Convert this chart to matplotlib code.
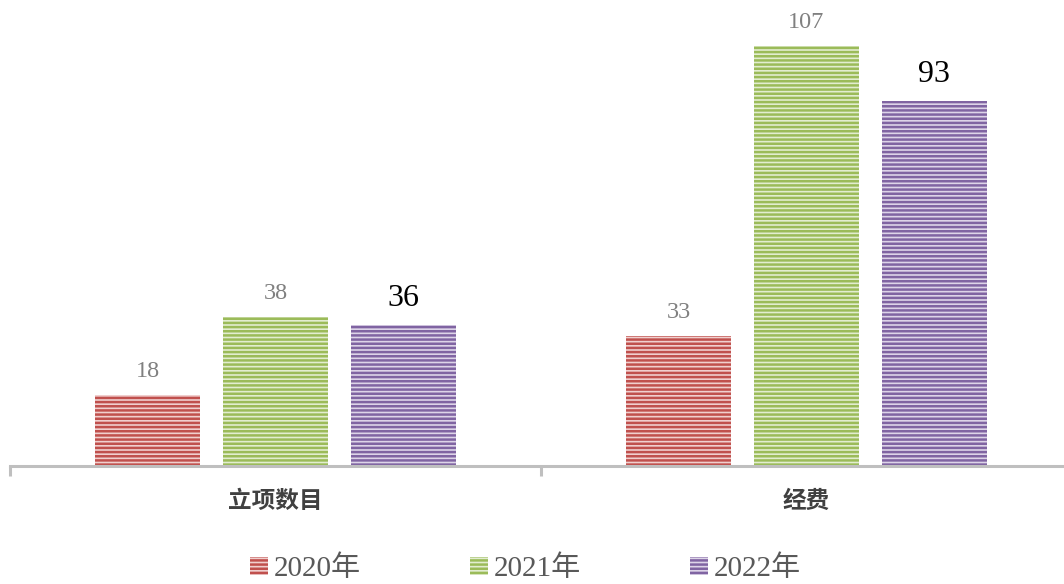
import matplotlib
matplotlib.use("Agg")
import matplotlib.pyplot as plt
import numpy as np
from matplotlib.patches import Patch

categories = ["立项数目", "经费"]
series_names = ["2020年", "2021年", "2022年"]
values = {
    "2020年": [18, 33],
    "2021年": [38, 107],
    "2022年": [36, 93],
}
colors = ["#c0504d", "#9bbb59", "#8064a2"]
faces = ["#f0cfce", "#e2edd0", "#ddd4e8"]

plt.rcParams['hatch.linewidth'] = 1.8

fig = plt.figure(figsize=(10.64, 5.84), dpi=100)
ax = fig.add_axes([10/1064, 1-466/584, 1062/1064, 466/584])

x = np.arange(len(categories))
width = 0.196
step = 0.241
serif_cjk = ['Liberation Serif', 'Noto Sans CJK SC']

for i, name in enumerate(series_names):
    xs = x + (i - 1) * step
    ax.bar(xs, values[name], width, facecolor=faces[i], edgecolor=colors[i],
           hatch='----', linewidth=0, zorder=2)
    for xv, v in zip(xs, values[name]):
        if i == 2:
            ax.text(xv, v + 3.0, str(v), ha='center', va='bottom',
                    fontsize=23, color='black', family=serif_cjk)
        else:
            ax.text(xv, v + 3.3, str(v), ha='center', va='bottom',
                    fontsize=17.5, color='#808080', family=serif_cjk)

ax.set_xlim(-0.5, 1.5)
ax.set_ylim(0, 118.7)
ax.set_yticks([])
for s in ['top', 'right', 'left']:
    ax.spines[s].set_visible(False)
ax.spines['bottom'].set_color('#bfbfbf')
ax.spines['bottom'].set_linewidth(2.2)
ax.set_xticks([-0.5, 0.5, 1.5])
ax.set_xticklabels([])
ax.tick_params(axis='x', length=7, width=2.2, color='#bfbfbf')
for xv, c in zip(x, categories):
    ax.text(xv, -9.0, c, ha='center', va='center', fontsize=17,
            color='#404040', family=['Noto Sans CJK SC'], weight='bold',
            transform=ax.transData, clip_on=False)

handles = [Patch(facecolor=faces[i], edgecolor=colors[i], hatch='----',
                 linewidth=0) for i in range(3)]
leg = fig.legend(handles, series_names, loc='center',
                 bbox_to_anchor=(0.494, 1-569/584),
                 ncol=3, frameon=False, prop={'family': serif_cjk, 'size': 21},
                 handlelength=0.6, handleheight=0.6, handletextpad=0.2,
                 columnspacing=3.75, labelcolor='#595959',
                 borderpad=0.1)

fig.savefig("out.png", dpi=100)
